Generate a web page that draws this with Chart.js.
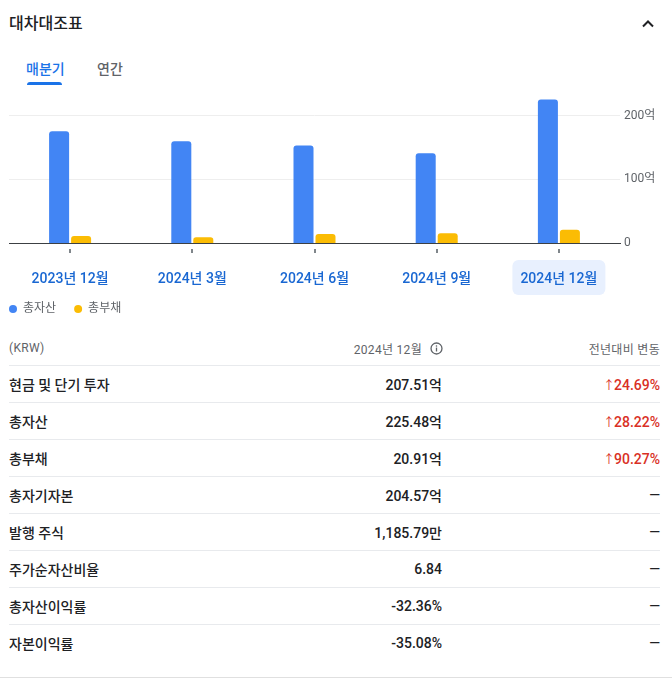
<!DOCTYPE html>
<html lang="ko">
<head>
    <meta charset="UTF-8">
    <meta name="viewport" content="width=device-width, initial-scale=1.0">
    <title>대차대조표</title>
    <script src="https://cdn.jsdelivr.net/npm/chart.js"></script>
    <style>
        html, body { margin: 0; padding: 0; background: #fff; overflow: hidden; }
        body { width: 672px; height: 679px; position: relative; font-family: Roboto, "Noto Sans CJK KR", sans-serif; color: #202124; }
        .title { position: absolute; left: 9px; top: 12px; font-size: 16px; font-weight: 500; line-height: 24px; }
        .chevron { position: absolute; left: 640px; top: 16px; }
        .tab { position: absolute; top: 59px; font-size: 14px; font-weight: 500; line-height: 20px; }
        .tab.active { left: 26px; color: #1a73e8; }
        .tab.other { left: 97px; color: #5f6368; }
        .tab-bar { position: absolute; left: 27px; top: 82px; width: 35px; height: 3px; background: #1a73e8; border-radius: 3px 3px 0 0; }
        .chart-box { position: absolute; left: -9px; top: 81px; width: 681px; height: 244px; }
        .table { position: absolute; left: 9px; top: 331px; width: 651px; }
        .row { display: flex; align-items: center; height: 36px; border-bottom: 1px solid #e8eaed; font-size: 14px; font-weight: 500; }
        .row.head { height: 34px; font-size: 12px; font-weight: 400; color: #5f6368; letter-spacing: 0.3px; }
        .row.last { border-bottom: none; }
        .row .label { flex: 1; }
        .row .val { width: 200px; text-align: right; }
        .row .chg { width: 218px; text-align: right; }
        .up { color: #d93025; }
        .up .arrow { font-size: 12px; font-weight: 400; margin-right: -1px; }
        .head .val { display: flex; justify-content: flex-end; align-items: center; }
        .head .val svg { margin-left: 8px; margin-right: -1px; }
        .bottom-line { position: absolute; left: 0; top: 677px; width: 672px; height: 1px; background: #e0e0e0; }
    </style>
</head>
<body>
    <div class="title">대차대조표</div>
    <svg class="chevron" width="16" height="16" viewBox="0 0 16 16">
        <path d="M3 10.5 L8 5.5 L13 10.5" fill="none" stroke="#202124" stroke-width="2"/>
    </svg>
    <div class="tab active">매분기</div>
    <div class="tab other">연간</div>
    <div class="tab-bar"></div>

    <div class="chart-box"><canvas id="bsChart"></canvas></div>

    <div class="table" id="bsTable">
        <div class="row head">
            <div class="label">(KRW)</div>
            <div class="val">2024년 12월
                <svg width="13" height="13" viewBox="0 0 14 14">
                    <circle cx="7" cy="7" r="5.9" fill="none" stroke="#5f6368" stroke-width="1.4"/>
                    <rect x="6.3" y="6" width="1.4" height="4.2" fill="#5f6368"/>
                    <circle cx="7" cy="4.3" r="0.85" fill="#5f6368"/>
                </svg>
            </div>
            <div class="chg">전년대비 변동</div>
        </div>
    </div>
    <div class="bottom-line"></div>

    <script>
        // chart data
        const quarters = ["2023년 12월", "2024년 3월", "2024년 6월", "2024년 9월", "2024년 12월"];
        const totalAssets = [175.85, 160.1, 153.4, 141.3, 225.48];   // 억 KRW
        const totalLiabilities = [10.99, 8.9, 14.1, 15.2, 20.91];     // 억 KRW
        const yTicks = [0, 100, 200];
        const yTickLabels = ["0", "100억", "200억"];
        const selectedIndex = 4;

        // table data
        const rowLabels = ["현금 및 단기 투자", "총자산", "총부채", "총자기자본", "발행 주식", "주가순자산비율", "총자산이익률", "자본이익률"];
        const rowValues = ["207.51억", "225.48억", "20.91억", "204.57억", "1,185.79만", "6.84", "-32.36%", "-35.08%"];
        const rowChanges = ["24.69%", "28.22%", "90.27%", null, null, null, null, null];

        const table = document.getElementById("bsTable");
        rowLabels.forEach((label, i) => {
            const row = document.createElement("div");
            row.className = "row" + (i === rowLabels.length - 1 ? " last" : "");
            const l = document.createElement("div");
            l.className = "label";
            l.textContent = label;
            const v = document.createElement("div");
            v.className = "val";
            v.textContent = rowValues[i];
            const c = document.createElement("div");
            c.className = "chg";
            if (rowChanges[i]) {
                c.classList.add("up");
                c.innerHTML = '<span class="arrow">↑</span>' + rowChanges[i];
            } else {
                c.textContent = "—";
            }
            row.appendChild(l);
            row.appendChild(v);
            row.appendChild(c);
            table.appendChild(row);
        });

        Chart.defaults.font.family = 'Roboto, "Noto Sans CJK KR", sans-serif';

        const labelFont = { size: 14, weight: 500 };
        const labelPadding = 28;

        // small marks under the axis, one per category
        const tickMarks = {
            id: "tickMarks",
            afterDraw(chart) {
                const x = chart.scales.x;
                const ctx = chart.ctx;
                ctx.save();
                ctx.strokeStyle = "#80868b";
                ctx.lineWidth = 2;
                x.ticks.forEach((t, i) => {
                    const px = Math.round(x.getPixelForTick(i));
                    ctx.beginPath();
                    ctx.moveTo(px, x.top + 6);
                    ctx.lineTo(px, x.top + 10);
                    ctx.stroke();
                });
                ctx.restore();
            }
        };

        // rounded highlight behind the selected quarter label
        const selectedBox = {
            id: "selectedBox",
            beforeDraw(chart) {
                const x = chart.scales.x;
                const ctx = chart.ctx;
                ctx.save();
                ctx.font = Chart.helpers.toFont(labelFont).string;
                const w = ctx.measureText(quarters[selectedIndex]).width + 16;
                const h = 35;
                const cx = x.getPixelForTick(selectedIndex);
                const cy = x.top + labelPadding + 6.5;
                ctx.fillStyle = "#e8f0fe";
                ctx.beginPath();
                ctx.roundRect(cx - w / 2, cy - h / 2, w, h, 6);
                ctx.fill();
                ctx.restore();
            }
        };

        new Chart(document.getElementById("bsChart"), {
            type: "bar",
            data: {
                labels: quarters,
                datasets: [
                    {
                        label: "총자산",
                        data: totalAssets,
                        backgroundColor: "#4285f4",
                        borderRadius: 3,
                        borderSkipped: "start"
                    },
                    {
                        label: "총부채",
                        data: totalLiabilities,
                        backgroundColor: "#fbbc04",
                        borderRadius: 3,
                        borderSkipped: "start"
                    }
                ]
            },
            options: {
                responsive: true,
                maintainAspectRatio: false,
                animation: false,
                categoryPercentage: 0.36,
                barPercentage: 0.91,
                layout: { padding: { top: 3, left: 0, right: 0, bottom: 0 } },
                scales: {
                    pad: {
                        axis: "y",
                        type: "linear",
                        position: "left",
                        grid: { display: false },
                        border: { display: false },
                        ticks: { display: false },
                        afterFit: s => { s.width = 18; s.paddingTop = 0; s.paddingBottom = 0; }
                    },
                    x: {
                        grid: { display: false, drawTicks: false },
                        border: { display: true, color: "#3c4043", width: 1 },
                        afterFit: s => { s.height = 42; },
                        ticks: {
                            padding: labelPadding,
                            color: "#1967d2",
                            font: labelFont
                        }
                    },
                    y: {
                        position: "right",
                        min: 0,
                        max: 250,
                        afterBuildTicks: s => { s.ticks = yTicks.map(v => ({ value: v })); },
                        afterFit: s => { s.width = 52; s.paddingTop = 0; s.paddingBottom = 0; },
                        grid: {
                            drawTicks: false,
                            color: c => (c.tick && c.tick.value === 0) ? "rgba(0,0,0,0)" : "#eeeeee"
                        },
                        border: { display: false },
                        ticks: {
                            padding: 4,
                            color: "#5f6368",
                            font: { size: 12 },
                            callback: (v, i) => yTickLabels[i]
                        }
                    }
                },
                plugins: {
                    legend: {
                        position: "bottom",
                        align: "start",
                        labels: {
                            usePointStyle: true,
                            pointStyle: "circle",
                            boxHeight: 5.66,
                            pointStyleWidth: 8,
                            padding: 18,
                            color: "#5f6368",
                            font: { size: 12 }
                        }
                    },
                    tooltip: { enabled: false }
                }
            },
            plugins: [selectedBox, tickMarks]
        });
    </script>
</body>
</html>
